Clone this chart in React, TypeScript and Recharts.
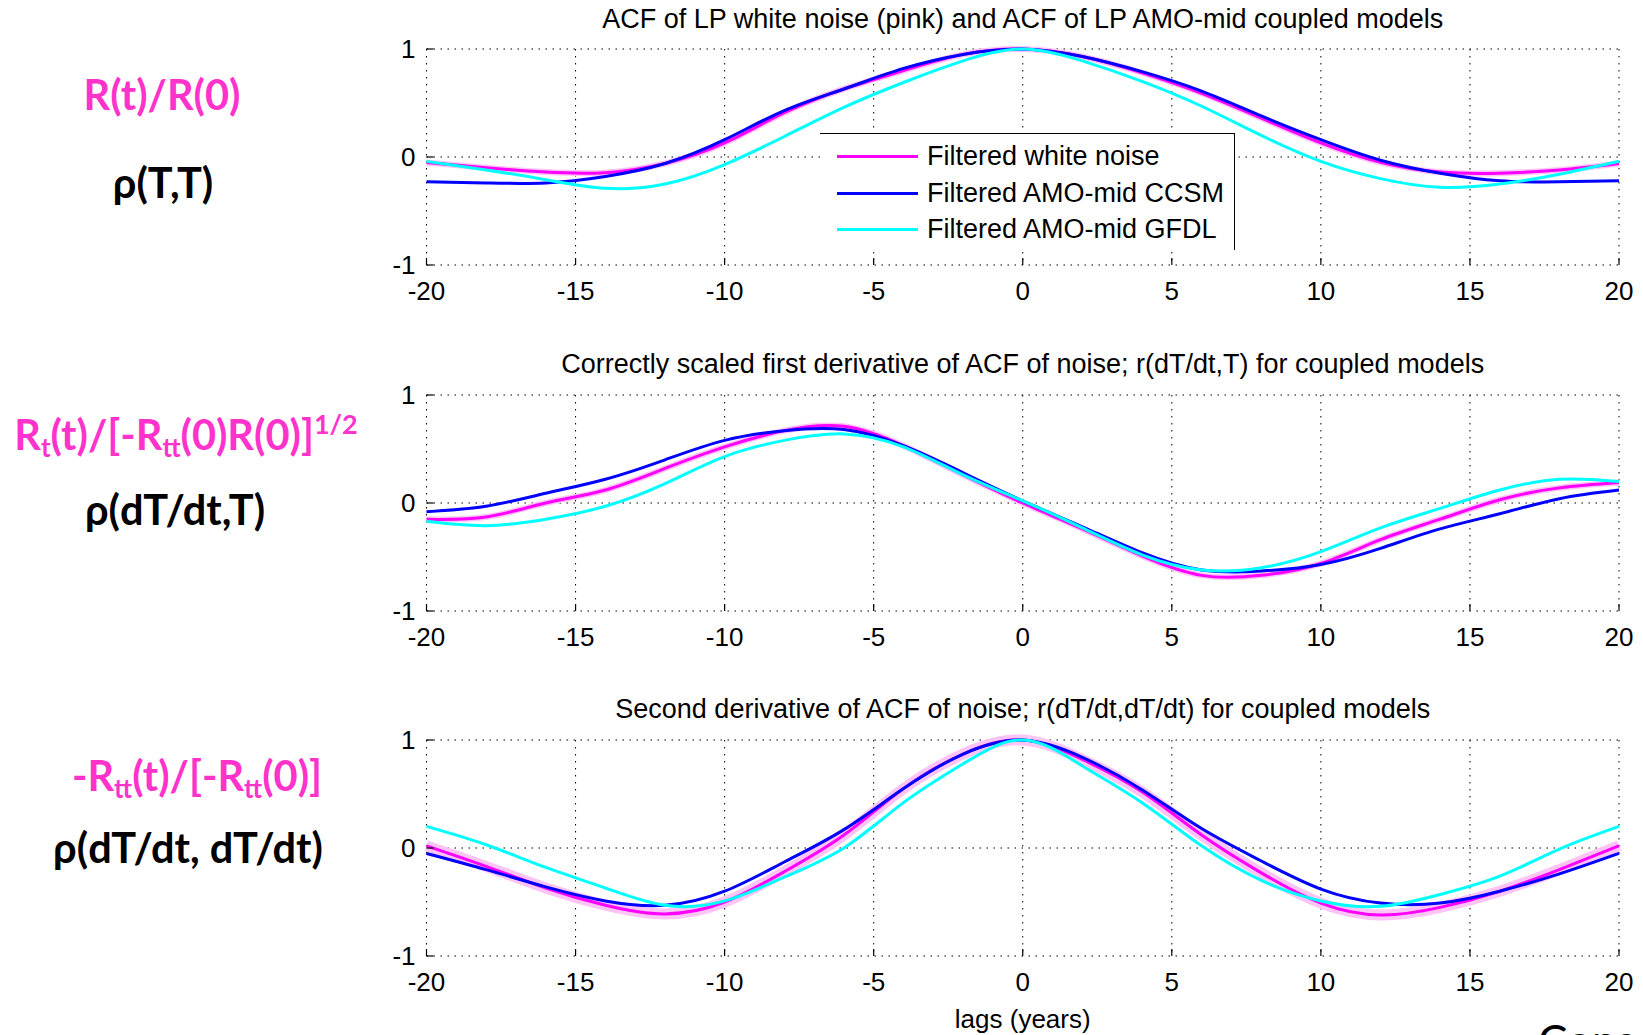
import React from 'react'
import { CartesianGrid, Line, LineChart, XAxis, YAxis } from 'recharts'

// lags in years, sampled every 2 years
const lags = [-20, -18, -16, -14, -12, -10, -8, -6, -4, -2, 0, 2, 4, 6, 8, 10, 12, 14, 16, 18, 20]

// panel 1: ACF
const acfNoise = [-0.05, -0.10, -0.14, -0.145, -0.06, 0.13, 0.41, 0.63, 0.80, 0.95, 1, 0.93, 0.78, 0.59, 0.36, 0.13, -0.05, -0.14, -0.15, -0.12, -0.06]
const acfCcsm  = [-0.23, -0.24, -0.24, -0.18, -0.06, 0.16, 0.43, 0.63, 0.82, 0.95, 1, 0.93, 0.79, 0.61, 0.38, 0.16, -0.03, -0.15, -0.22, -0.23, -0.22]
const acfGfdl  = [-0.04, -0.12, -0.21, -0.29, -0.25, -0.07, 0.19, 0.46, 0.69, 0.89, 1, 0.89, 0.70, 0.47, 0.20, -0.04, -0.20, -0.28, -0.25, -0.16, -0.04]

// panel 2: first derivative
const d1Noise = [-0.15, -0.13, 0.0, 0.12, 0.32, 0.52, 0.67, 0.71, 0.53, 0.26, 0.0, -0.24, -0.49, -0.67, -0.67, -0.56, -0.34, -0.15, 0.03, 0.14, 0.19]
const d1Ccsm  = [-0.08, -0.03, 0.09, 0.22, 0.40, 0.58, 0.67, 0.68, 0.53, 0.28, 0.02, -0.22, -0.46, -0.62, -0.63, -0.57, -0.42, -0.24, -0.10, 0.04, 0.12]
const d1Gfdl  = [-0.17, -0.21, -0.15, -0.03, 0.18, 0.43, 0.58, 0.64, 0.52, 0.26, 0.02, -0.23, -0.48, -0.62, -0.60, -0.45, -0.23, -0.05, 0.12, 0.22, 0.20]

// panel 3: second derivative
const d2Noise = [0.02, -0.17, -0.37, -0.53, -0.61, -0.50, -0.22, 0.12, 0.55, 0.87, 1, 0.82, 0.52, 0.12, -0.23, -0.51, -0.62, -0.55, -0.40, -0.20, 0.02]
const d2Ccsm  = [-0.05, -0.20, -0.36, -0.49, -0.53, -0.40, -0.13, 0.17, 0.55, 0.87, 1, 0.84, 0.54, 0.18, -0.12, -0.38, -0.51, -0.51, -0.40, -0.24, -0.05]
const d2Gfdl  = [0.20, 0.03, -0.18, -0.37, -0.53, -0.49, -0.27, 0.0, 0.42, 0.78, 1, 0.76, 0.42, 0.02, -0.30, -0.49, -0.54, -0.43, -0.26, -0.01, 0.20]

const xTicks = [-20, -15, -10, -5, 0, 5, 10, 15, 20]
const yTicks = [-1, 0, 1]

const titles = [
  'ACF of LP white noise (pink) and ACF of LP AMO-mid coupled models',
  'Correctly scaled first derivative of ACF of noise; r(dT/dt,T) for coupled models',
  'Second derivative of ACF of noise; r(dT/dt,dT/dt) for coupled models',
]
const legendLabels = ['Filtered white noise', 'Filtered AMO-mid CCSM', 'Filtered AMO-mid GFDL']

const MAGENTA = '#ff00ff'
const BLUE    = '#0000ff'
const CYAN    = '#00ffff'
const BAND    = '#ffc4f6'
const PINK    = '#ff33cc'
const AXIS_FONT = '"Liberation Sans", Arial, Helvetica, sans-serif'
const LABEL_FONT = 'Lato, "Open Sans", sans-serif'

const PLOT_LEFT = 426.5
const PLOT_W    = 1192.5
const PLOT_H    = 216
const PAD_TOP   = 24
const X_MARGIN  = 17
const Y_MARGIN  = 11
const TICK_LEN  = 7
const TICK_FONT = 26
const TEXT_FONT = 27

const rowsOf = (a: number[], b: number[], c: number[]) =>
  lags.map((x, i) => ({ x, noise: a[i], ccsm: b[i], gfdl: c[i] }))

function XTick(props: any) {
  const { x, y, payload } = props
  const axisY = y - X_MARGIN
  return (
    <g>
      <line x1={x} x2={x} y1={axisY} y2={axisY - TICK_LEN} stroke="#000" strokeWidth={1.2} />
      <text x={x} y={y} dy="0.71em" textAnchor="middle" fontSize={TICK_FONT} fill="#000" fontFamily={AXIS_FONT}>
        {payload.value}
      </text>
    </g>
  )
}

function YTickLeft(props: any) {
  const { x, y, payload } = props
  const axisX = x + Y_MARGIN
  return (
    <g>
      <line x1={axisX} x2={axisX + TICK_LEN} y1={y} y2={y} stroke="#000" strokeWidth={1.2} />
      <text x={x} y={y} dy="0.36em" textAnchor="end" fontSize={TICK_FONT} fill="#000" fontFamily={AXIS_FONT}>
        {payload.value}
      </text>
    </g>
  )
}

function YTickRight(props: any) {
  const { x, y } = props
  return <line x1={x} x2={x - TICK_LEN} y1={y} y2={y} stroke="#000" strokeWidth={1.2} />
}

interface PanelProps {
  top: number
  rows: { x: number; noise: number; ccsm: number; gfdl: number }[]
  band: number
}

function Panel({ top, rows, band }: PanelProps) {
  return (
    <div style={{ position: 'absolute', left: 0, top: top - PAD_TOP }}>
      <LineChart width={1643} height={PLOT_H + PAD_TOP + 50} data={rows}
        margin={{ top: PAD_TOP, right: 14, bottom: 0, left: 0 }}>
        <CartesianGrid stroke="#000" strokeDasharray="1.5 5.5" strokeWidth={1} />
        <XAxis dataKey="x" type="number" domain={[-20, 20]} ticks={xTicks} interval={0}
          height={50} axisLine={false} tickLine={false} tickSize={0} tickMargin={X_MARGIN}
          tick={(p: any) => <XTick {...p} />} />
        <YAxis domain={[-1, 1]} ticks={yTicks} interval={0} width={PLOT_LEFT}
          axisLine={false} tickLine={false} tickSize={0} tickMargin={Y_MARGIN}
          tick={(p: any) => <YTickLeft {...p} />} />
        <YAxis yAxisId="r" orientation="right" domain={[-1, 1]} ticks={yTicks} interval={0} width={10}
          axisLine={false} tickLine={false} tickSize={0} tickMargin={0}
          tick={(p: any) => <YTickRight {...p} />} />
        <Line type="natural" dataKey="noise" stroke={BAND} strokeWidth={band} dot={false} activeDot={false} isAnimationActive={false} />
        <Line type="natural" dataKey="noise" stroke={MAGENTA} strokeWidth={3} dot={false} activeDot={false} isAnimationActive={false} />
        <Line type="natural" dataKey="ccsm" stroke={BLUE} strokeWidth={3} dot={false} activeDot={false} isAnimationActive={false} />
        <Line type="natural" dataKey="gfdl" stroke={CYAN} strokeWidth={3} dot={false} activeDot={false} isAnimationActive={false} />
      </LineChart>
    </div>
  )
}

function Title({ top, text }: { top: number; text: string }) {
  return (
    <div style={{
      position: 'absolute', left: PLOT_LEFT - 100, top, width: PLOT_W + 200, textAlign: 'center',
      fontFamily: AXIS_FONT, fontSize: TEXT_FONT, lineHeight: 1, color: '#000', whiteSpace: 'nowrap',
    }}>
      {text}
    </div>
  )
}

function SideLabel({ cx, cy, color, size, children }: any) {
  return (
    <div style={{
      position: 'absolute', left: cx - 200, width: 400, top: cy - size * 0.53, textAlign: 'center',
      fontFamily: LABEL_FONT, fontWeight: 700, fontSize: size, lineHeight: 1, color, whiteSpace: 'nowrap',
    }}>
      {children}
    </div>
  )
}

const sub = (s: string) => (
  <span style={{ fontSize: '0.62em', verticalAlign: '-0.28em', lineHeight: 0 }}>{s}</span>
)
const sup = (s: string) => (
  <span style={{ fontSize: '0.65em', verticalAlign: '0.6em', lineHeight: 0 }}>{s}</span>
)

export default function App() {
  const legendColors = [MAGENTA, BLUE, CYAN]
  return (
    <div style={{ position: 'absolute', left: 0, top: 0, width: 1643, height: 1035, overflow: 'hidden', background: '#fff' }}>
      <Title top={6} text={titles[0]} />
      <Title top={351} text={titles[1]} />
      <Title top={696} text={titles[2]} />

      <Panel top={49} rows={rowsOf(acfNoise, acfCcsm, acfGfdl)} band={6} />
      <Panel top={395} rows={rowsOf(d1Noise, d1Ccsm, d1Gfdl)} band={6} />
      <Panel top={740} rows={rowsOf(d2Noise, d2Ccsm, d2Gfdl)} band={11} />

      {/* legend of the top panel */}
      <div style={{
        position: 'absolute', left: 820, top: 133, width: 414, height: 116, background: '#fff',
        borderTop: '1px solid #000', borderRight: '1px solid #000',
      }}>
        {legendLabels.map((l, i) => (
          <div key={l}>
            <div style={{ position: 'absolute', left: 17, top: 21 + i * 36.5, width: 81, height: 3, background: legendColors[i] }} />
            <div style={{
              position: 'absolute', left: 107, top: 9 + i * 36.5, fontFamily: AXIS_FONT, fontSize: TEXT_FONT,
              lineHeight: 1, color: '#000', whiteSpace: 'nowrap',
            }}>{l}</div>
          </div>
        ))}
      </div>

      <div style={{
        position: 'absolute', left: PLOT_LEFT, top: 1006, width: PLOT_W, textAlign: 'center',
        fontFamily: AXIS_FONT, fontSize: TICK_FONT, lineHeight: 1, color: '#000',
      }}>lags (years)</div>

      <SideLabel cx={162} cy={96} color={PINK} size={41.5}>R(t)/R(0)</SideLabel>
      <SideLabel cx={163} cy={184} color="#000" size={41.5}>ρ(T,T)</SideLabel>
      <SideLabel cx={186} cy={436} color={PINK} size={41.5}>
        R{sub('t')}(t)/[-R{sub('tt')}(0)R(0)]{sup('1/2')}
      </SideLabel>
      <SideLabel cx={175} cy={511} color="#000" size={41.5}>ρ(dT/dt,T)</SideLabel>
      <SideLabel cx={197} cy={777} color={PINK} size={41.5}>
        -R{sub('tt')}(t)/[-R{sub('tt')}(0)]
      </SideLabel>
      <SideLabel cx={188} cy={849} color="#000" size={41.5}>ρ(dT/dt, dT/dt)</SideLabel>

      <div style={{
        position: 'absolute', left: 1538, top: 1018, fontFamily: LABEL_FONT, fontSize: 44,
        lineHeight: 1, color: '#000', whiteSpace: 'nowrap',
      }}>Cons</div>
    </div>
  )
}
